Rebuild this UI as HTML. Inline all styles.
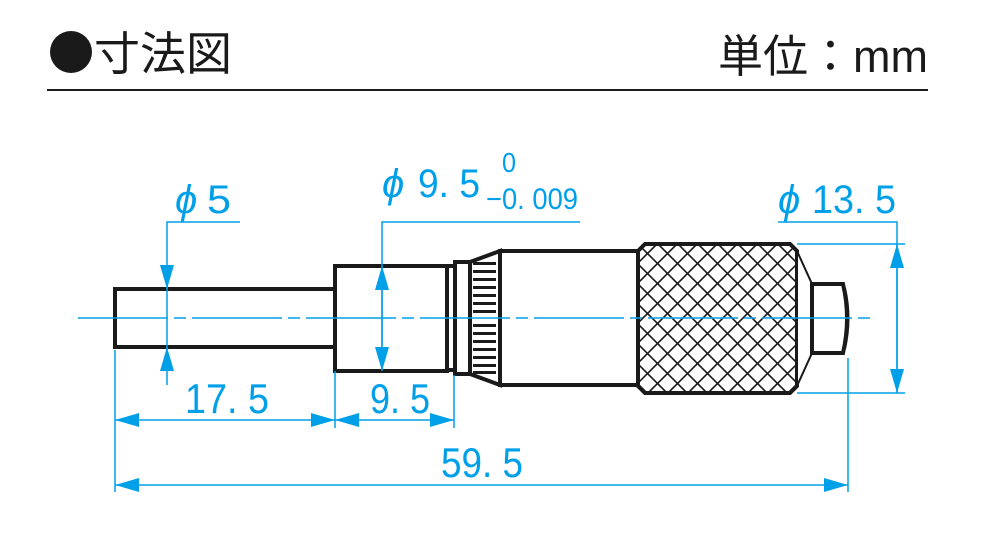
<!DOCTYPE html>
<html><head><meta charset="utf-8"><style>body{margin:0;background:#fff}svg{display:block}</style></head><body>
<svg width="1000" height="550" viewBox="0 0 1000 550" xmlns="http://www.w3.org/2000/svg">
<defs>
<clipPath id="kc"><polygon points="645,244 790,244 797,251 797,386 790,393 645,393 638,386 638,251"/></clipPath>
<marker id="a" viewBox="0 0 24 14" refX="24" refY="7" markerWidth="24" markerHeight="14" markerUnits="userSpaceOnUse" orient="auto-start-reverse"><path d="M0,0L24,7L0,14Z" fill="#00a0e9"/></marker>
</defs>
<!-- header -->
<circle cx="71" cy="52" r="21" fill="#1a1a1a"/>
<text x="94" y="70" font-family="'Liberation Sans','Noto Sans CJK JP',sans-serif" font-size="46" fill="#1a1a1a">寸法図</text>
<text x="928" y="72" text-anchor="end" font-family="'Liberation Sans','Noto Sans CJK JP',sans-serif" font-size="45" fill="#1a1a1a">単位：mm</text>
<line x1="47" y1="90" x2="928" y2="90" stroke="#1a1a1a" stroke-width="2"/>
<!-- body -->
<g stroke="#1a1a1a" stroke-width="4" fill="#fff">
<rect x="115" y="289" width="220" height="58"/>
<rect x="335" y="266" width="112" height="105"/>
<rect x="447" y="266" width="8" height="104"/>
<rect x="455" y="262" width="15" height="112"/>
<polygon points="470,262 500,251 500,385 470,374"/>
<rect x="500" y="251" width="138" height="134"/>
<polygon points="645,244 790,244 797,251 797,386 790,393 645,393 638,386 638,251"/>
<polygon points="797,251 812,284 812,353 797,386" stroke-width="2"/>
<path d="M812,284 L843,284 Q851,318 843,353 L812,353 Z"/>
</g>
<path d="M845,288 Q852,318 845,349" stroke="#1a1a1a" stroke-width="2" fill="none"/>
<g fill="#1a1a1a">
<rect x="473" y="262" width="23" height="3"/><rect x="473" y="270" width="23" height="3"/><rect x="473" y="278" width="23" height="3"/><rect x="473" y="286" width="23" height="3"/><rect x="473" y="294" width="23" height="3"/><rect x="473" y="302" width="23" height="3"/><rect x="473" y="310" width="23" height="3"/><rect x="473" y="324" width="23" height="3"/><rect x="473" y="332" width="23" height="3"/><rect x="473" y="340" width="23" height="3"/><rect x="473" y="348" width="23" height="3"/><rect x="473" y="356" width="23" height="3"/><rect x="473" y="364" width="23" height="3"/><rect x="473" y="371" width="23" height="3"/>
</g>
<g clip-path="url(#kc)" stroke="#1a1a1a" stroke-width="1.6">
<path d="M498,244l149,149M518,244l149,149M538,244l149,149M558,244l149,149M578,244l149,149M598,244l149,149M618,244l149,149M638,244l149,149M658,244l149,149M678,244l149,149M698,244l149,149M718,244l149,149M738,244l149,149M758,244l149,149M778,244l149,149"/>
<path d="M937,244l-149,149M917,244l-149,149M897,244l-149,149M877,244l-149,149M857,244l-149,149M837,244l-149,149M817,244l-149,149M797,244l-149,149M777,244l-149,149M757,244l-149,149M737,244l-149,149M717,244l-149,149M697,244l-149,149M677,244l-149,149M657,244l-149,149"/>
</g>
<!-- centerline -->
<line x1="78" y1="318" x2="875" y2="318" stroke="#00a0e9" stroke-width="1.5" stroke-dasharray="90,6,12,6"/>
<!-- dims -->
<g stroke="#00a0e9" stroke-width="1.5" fill="none">
<polyline points="240,222 167,222 167,385"/>
<polyline points="580,222 382,222 382,370"/>
<polyline points="778,222 897,222 897,393"/>
<line x1="797" y1="244" x2="905" y2="244"/>
<line x1="797" y1="393" x2="905" y2="393"/>
<line x1="115" y1="350" x2="115" y2="492"/>
<line x1="335" y1="371" x2="335" y2="428"/>
<line x1="454" y1="375" x2="454" y2="428"/>
<line x1="848" y1="358" x2="848" y2="492"/>
<line x1="167" y1="265" x2="167" y2="289" marker-end="url(#a)"/>
<line x1="167" y1="370" x2="167" y2="347" marker-end="url(#a)"/>
<line x1="382" y1="318" x2="382" y2="266" marker-end="url(#a)"/>
<line x1="382" y1="318" x2="382" y2="371" marker-end="url(#a)"/>
<line x1="897" y1="318" x2="897" y2="244" marker-end="url(#a)"/>
<line x1="897" y1="318" x2="897" y2="393" marker-end="url(#a)"/>
<line x1="115" y1="420" x2="335" y2="420" marker-start="url(#a)" marker-end="url(#a)"/>
<line x1="335" y1="420" x2="454" y2="420" marker-start="url(#a)" marker-end="url(#a)"/>
<line x1="115" y1="485" x2="848" y2="485" marker-start="url(#a)" marker-end="url(#a)"/>
</g>
<g fill="#00a0e9" font-family="'Liberation Sans',sans-serif">
<text x="175" y="213" font-size="40" font-style="italic">ϕ</text>
<text x="207" y="213" font-size="40" textLength="24" lengthAdjust="spacingAndGlyphs">5</text>
<text x="382" y="197" font-size="40" font-style="italic">ϕ</text>
<text x="418" y="197" font-size="40" textLength="62" lengthAdjust="spacingAndGlyphs">9. 5</text>
<text x="502" y="172" font-size="28" textLength="14" lengthAdjust="spacingAndGlyphs">0</text>
<text x="486" y="209" font-size="30" textLength="92" lengthAdjust="spacingAndGlyphs">−0. 009</text>
<text x="778" y="213" font-size="40" font-style="italic">ϕ</text>
<text x="812" y="213" font-size="40" textLength="84" lengthAdjust="spacingAndGlyphs">13. 5</text>
<text x="185" y="413" font-size="42" textLength="84" lengthAdjust="spacingAndGlyphs">17. 5</text>
<text x="370" y="413" font-size="42" textLength="60" lengthAdjust="spacingAndGlyphs">9. 5</text>
<text x="441" y="477" font-size="42" textLength="82" lengthAdjust="spacingAndGlyphs">59. 5</text>
</g>
</svg>
</body></html>
